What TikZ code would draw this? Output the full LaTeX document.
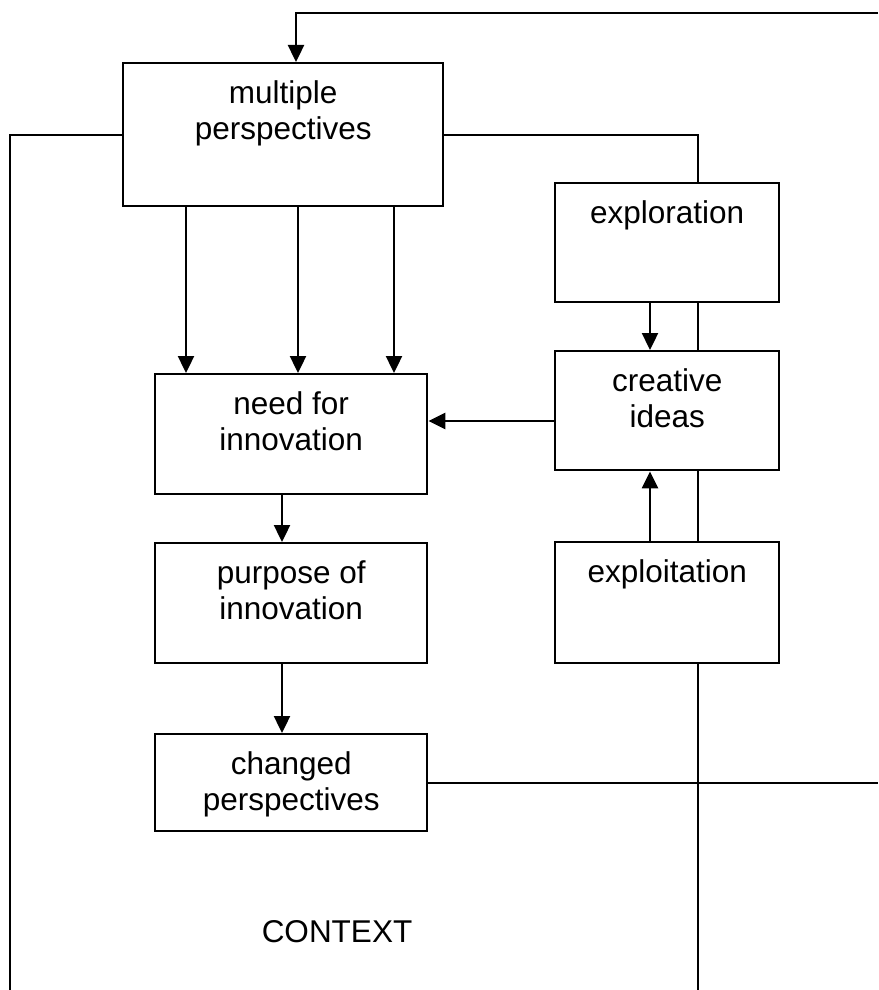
\documentclass[tikz,border=0pt]{standalone}
\usepackage{fontspec}
\setmainfont{Liberation Sans}
\usetikzlibrary{arrows.meta,backgrounds}
\newcommand\bxtext[3]{\parbox[t][#2][t]{#1}{\centering\rule{0pt}{40pt}#3}}
\begin{document}
\begin{tikzpicture}[x=1pt,y=-1pt,
  box/.style={draw, fill=white, line width=2.4pt, inner sep=0pt, anchor=north west},
  conn/.style={line width=2.4pt},
  arr/.style={conn, -{Triangle[length=17pt,width=16pt]}},
  every node/.style={font=\fontsize{31.5}{36}\selectfont}]
\useasboundingbox (0,0) rectangle (878,990);

% boxes
\node[box] (mp) at (122,62) {\bxtext{320pt}{143pt}{multiple\\perspectives}};
\node[box] (need) at (154,373) {\bxtext{272pt}{120pt}{need for\\innovation}};
\node[box] (purp) at (154,542) {\bxtext{272pt}{120pt}{purpose of\\innovation}};
\node[box] (chg) at (154,733) {\bxtext{272pt}{97pt}{changed\\perspectives}};
\node[box] (expl) at (554,182) {\bxtext{224pt}{119pt}{exploration}};
\node[box] (crea) at (554,350) {\bxtext{224pt}{119pt}{creative\\ideas}};
\node[box] (expt) at (554,541) {\bxtext{224pt}{121pt}{exploitation}};
\node[anchor=base] (ctx) at (337,942) {CONTEXT};

% helper coordinates
\coordinate (tr) at (878,13);
\coordinate (tl) at (296,13);
\coordinate (bl) at (10,990);
\coordinate (br) at (698,990);
\coordinate (cr) at (878,782);
\coordinate (a1) at (186,0);
\coordinate (a2) at (298,0);
\coordinate (a3) at (394,0);
\coordinate (a4) at (282,0);
\coordinate (a5) at (650,0);
\coordinate (h1) at (0,421);

\begin{scope}[on background layer]
  \draw[conn] (mp.east) -| (br);
  \draw[conn] (chg.east) -- (chg.east -| cr);
\end{scope}

\draw[arr] (tr) -- (tl) -- (tl |- mp.north);
\draw[conn] (mp.west) -| (bl);
\draw[arr] (mp.south -| a1) -- (need.north -| a1);
\draw[arr] (mp.south -| a2) -- (need.north -| a2);
\draw[arr] (mp.south -| a3) -- (need.north -| a3);
\draw[arr] (need.south -| a4) -- (purp.north -| a4);
\draw[arr] (purp.south -| a4) -- (chg.north -| a4);
\draw[arr] (expl.south -| a5) -- (crea.north -| a5);
\draw[arr] (expt.north -| a5) -- (crea.south -| a5);
\draw[arr] (crea.west |- h1) -- (need.east |- h1);
\end{tikzpicture}
\end{document}
